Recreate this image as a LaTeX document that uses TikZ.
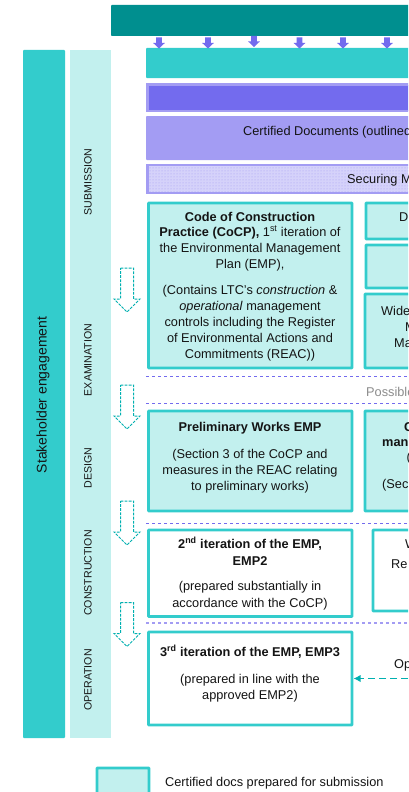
\documentclass[tikz,border=0pt]{standalone}
\usepackage{fontspec}
\setmainfont{Liberation Sans}
\usetikzlibrary{patterns,arrows.meta}
\definecolor{tealD}{HTML}{008F8F}
\definecolor{tealM}{HTML}{33CCCC}
\definecolor{tealL}{HTML}{C2F0EE}
\definecolor{purD}{HTML}{736BEE}
\definecolor{purM}{HTML}{A39CF3}
\definecolor{purL}{HTML}{D5D2FA}
\definecolor{dashT}{HTML}{00B0B0}
\definecolor{greyT}{HTML}{8C8C8C}
\tikzset{
  x=1pt,y=-1pt,
  doc/.style={draw=tealM,line width=2.8pt,fill=tealL,rounded corners=0.6pt},
  docw/.style={draw=tealM,line width=2.8pt,fill=white,rounded corners=0.6pt},
  txt/.style={align=center,inner sep=0pt,font=\fontsize{12.75}{16}\selectfont,text=black!92},
  vert/.style={rotate=90,inner sep=0pt,font=\fontsize{10.6}{12}\selectfont,text=black!92},
  stage/.style={draw=purD,line width=1pt,dash pattern=on 3.4pt off 2.6pt},
  pusharrow/.style={fill=purD,draw=none},
  hollow/.style={draw=dashT,line width=1pt,dash pattern=on 2.8pt off 1.3pt,fill=white},
}
\newcommand{\purplearrow}[2]{\fill[pusharrow] (#1-2.8,#2) -- (#1+2.8,#2) -- (#1+2.8,#2+5.5) -- (#1+5.8,#2+5.5) -- (#1,#2+11) -- (#1-5.8,#2+5.5) -- (#1-2.8,#2+5.5) -- cycle;}
\newcommand{\hollowarrow}[2]{\draw[hollow] (#1-6.5,#2) -- (#1+6.5,#2) -- (#1+6.5,#2+31) -- (#1+13,#2+31) -- (#1,#2+44) -- (#1-13,#2+31) -- (#1-6.5,#2+31) -- cycle;}
\begin{document}
\begin{tikzpicture}
\clip (0,0) rectangle (408,792);
\fill[white] (0,0) rectangle (408,792);

% top bars
\fill[tealD,rounded corners=0.8pt] (111,5) rectangle (420,36);
\fill[tealM,rounded corners=0.8pt] (146,48) rectangle (420,78);
\foreach \px/\py in {159/37.5,208/37.5,254/36,299.5/37.5,343/37.5,387/37.5}{\purplearrow{\px}{\py}}
\draw[purM,line width=2.6pt,fill=purD] (147.3,84.5) rectangle (420,111);
\fill[purM,rounded corners=0.8pt] (146,116) rectangle (420,160);
\node[txt,anchor=base west] (cert) at (243,135) {Certified Documents (outlined};
\draw[purM,line width=2.6pt,fill=purL] (147.3,165) rectangle (420,193);
\fill[pattern=dots,pattern color=purM] (149,166.3) rectangle (420,191.7);
\node[txt,anchor=base west] (secure) at (347,183) {Securing M};

% side columns
\fill[tealM,rounded corners=0.8pt] (23,50) rectangle (65,738);
\node[rotate=90,inner sep=0pt,font=\fontsize{14}{16}\selectfont,text=black!92] (stake) at (43,395) {Stakeholder engagement};
\fill[tealL] (70,50) rectangle (111,738);
\node[vert] (s1) at (88,182) {SUBMISSION};
\node[vert] (s2) at (88,360) {EXAMINATION};
\node[vert] (s3) at (88,468) {DESIGN};
\node[vert] (s4) at (88,573) {CONSTRUCTION};
\node[vert] (s5) at (88,680) {OPERATION};

% hollow arrows
\hollowarrow{127}{268}
\hollowarrow{127}{385}
\hollowarrow{127}{501}
\hollowarrow{127}{602.5}

% stage separators
\draw[stage] (146,376) -- (408,376);
\draw[stage] (146,403.5) -- (408,403.5);
\draw[stage] (146,523.5) -- (408,523.5);
\draw[stage,purM,line width=1.3pt] (146,623) -- (408,623);
\node[anchor=base west,inner sep=0pt,font=\fontsize{12.75}{14}\selectfont,text=greyT] (poss) at (366,396) {Possible};

% left docs
\draw[doc] (148.5,203) rectangle (352,368);
\node[txt,anchor=base] (c1) at (250,221) {\textbf{Code of Construction}};
\node[txt,anchor=base] (c2) at (250,236) {\textbf{Practice (CoCP),} 1\textsuperscript{st} iteration of};
\node[txt,anchor=base] (c3) at (250,252) {the Environmental Management};
\node[txt,anchor=base] (c4) at (250,268) {Plan (EMP),};
\node[txt,anchor=base] (c5) at (250,294) {(Contains LTC’s \textit{construction} \&};
\node[txt,anchor=base] (c6) at (250,310) {\textit{operational} management};
\node[txt,anchor=base] (c7) at (250,326) {controls including the Register};
\node[txt,anchor=base] (c8) at (250,342) {of Environmental Actions and};
\node[txt,anchor=base] (c9) at (250,358) {Commitments (REAC))};

\draw[doc] (148.5,411) rectangle (352,511);
\node[txt,anchor=base] (p1) at (250,431) {\textbf{Preliminary Works EMP}};
\node[txt,anchor=base] (p2) at (250,458) {(Section 3 of the CoCP and};
\node[txt,anchor=base] (p3) at (250,474) {measures in the REAC relating};
\node[txt,anchor=base] (p4) at (250,490) {to preliminary works)};

\draw[docw] (148.5,530) rectangle (352,616.5);
\node[txt,anchor=base] (e1) at (250,548) {\textbf{2\textsuperscript{nd} iteration of the EMP,}};
\node[txt,anchor=base] (e2) at (250,565) {\textbf{EMP2}};
\node[txt,anchor=base] (e3) at (250,590) {(prepared substantially in};
\node[txt,anchor=base] (e4) at (250,607) {accordance with the CoCP)};

\draw[docw] (148.5,632) rectangle (352,725);
\node[txt,anchor=base] (t1) at (250,656) {\textbf{3\textsuperscript{rd} iteration of the EMP, EMP3}};
\node[txt,anchor=base] (t2) at (250,683) {(prepared in line with the};
\node[txt,anchor=base] (t3) at (250,699) {approved EMP2)};

% right docs
\draw[doc] (366,203) rectangle (420,239);
\node[txt,anchor=base west] (r1) at (399,221) {D};
\draw[doc] (366,245) rectangle (420,288);
\draw[doc] (365,294) rectangle (420,368);
\node[txt,anchor=base west] (r2) at (381,315) {Wide};
\node[txt,anchor=base west] (r3) at (405,331) {M};
\node[txt,anchor=base west] (r4) at (394,347) {Ma};

\draw[doc] (365,411) rectangle (420,511);
\node[txt,anchor=base west] (g1) at (404,431) {\textbf{C}};
\node[txt,anchor=base west] (g2) at (382,446) {\textbf{man}};
\node[txt,anchor=base west] (g0) at (406.5,461) {(};
\node[txt,anchor=base west] (g3) at (382,488) {(Sec};

\draw[docw] (373,530) rectangle (420,611);
\node[txt,anchor=base west] (w0) at (405,548) {W};
\node[txt,anchor=base west] (w1) at (391,568) {Re};

\node[txt,anchor=base west] (op) at (394,668) {Op};
\coordinate (opend) at (408,678.5);
\coordinate (emp3side) at (353.5,678.5);
\draw[dashT,line width=1.4pt,dash pattern=on 7pt off 4pt,-{Latex[length=7pt,width=7.5pt]}] (opend) -- (emp3side);

% legend
\draw[doc] (97,768) rectangle (149,800);
\node[anchor=base west,inner sep=0pt,font=\fontsize{12.75}{14}\selectfont,text=black!92] (leg) at (165,786) {Certified docs prepared for submission};
\end{tikzpicture}
\end{document}
